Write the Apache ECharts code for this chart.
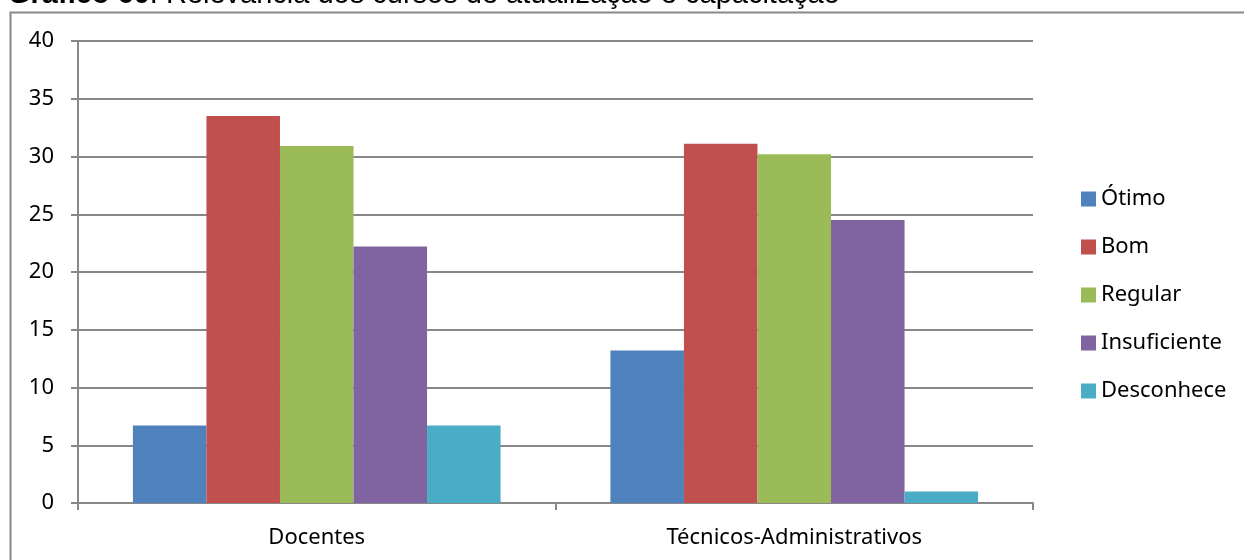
<!DOCTYPE html>
<html>
<head>
<meta charset="utf-8">
<title>Relevância dos cursos de atualização e capacitação</title>
<script src="https://cdn.jsdelivr.net/npm/echarts@6/dist/echarts.min.js"></script>
<style>
  html, body { margin: 0; padding: 0; background: #ffffff; }
  #chart { width: 1244px; height: 560px; }
</style>
</head>
<body>
<div id="chart"></div>
<script>
// Respondent groups along the x axis
const categories = ['Docentes', 'Técnicos-Administrativos'];

// Share of answers per rating (%), one array per rating
const otimo = [6.7, 13.2];
const bom = [33.5, 31.1];
const regular = [30.9, 30.2];
const insuficiente = [22.2, 24.5];
const desconhece = [6.7, 1.0];

const seriesNames = ['Ótimo', 'Bom', 'Regular', 'Insuficiente', 'Desconhece'];
const seriesValues = [otimo, bom, regular, insuficiente, desconhece];
const seriesColors = ['#4F81BD', '#C0504D', '#9BBB59', '#8064A2', '#4BACC6'];

const FONT = 'Noto Sans';
const GRAY = '#888888';

const chart = echarts.init(document.getElementById('chart'));

chart.setOption({
  animation: false,
  backgroundColor: '#ffffff',
  grid: { left: 78, right: 211, top: 41, bottom: 57, containLabel: false },
  graphic: [
    {
      type: 'rect',
      silent: true,
      shape: { x: 10.5, y: 12.5, width: 1300, height: 700 },
      style: { fill: 'none', stroke: GRAY, lineWidth: 2 }
    },
    {
      type: 'text',
      silent: true,
      x: 8,
      y: -5,
      style: {
        text: '{b|Gráfico 60}: Relevância dos cursos de atualização e capacitação',
        font: '29px Liberation Sans',
        fill: '#000000',
        verticalAlign: 'middle',
        rich: {
          b: { fontWeight: 'bold', fontSize: 29, fontFamily: 'Liberation Sans', fill: '#000000' }
        }
      }
    }
  ],
  legend: {
    orient: 'vertical',
    left: 1076,
    top: 181,
    itemWidth: 15,
    itemHeight: 15,
    itemGap: 22,
    icon: 'rect',
    selectedMode: false,
    textStyle: { fontFamily: FONT, fontSize: 22, color: '#000000', lineHeight: 26 },
    data: seriesNames
  },
  xAxis: {
    type: 'category',
    data: categories,
    axisLine: { show: true, lineStyle: { color: GRAY, width: 2 } },
    axisTick: { show: true, length: 7, alignWithLabel: false, lineStyle: { color: GRAY, width: 2 } },
    axisLabel: { margin: 24, fontFamily: FONT, fontSize: 22, color: '#000000' },
    splitLine: { show: false }
  },
  yAxis: {
    type: 'value',
    min: 0,
    max: 40,
    interval: 5,
    axisLine: { show: true, lineStyle: { color: GRAY, width: 2 } },
    axisTick: { show: true, length: 7, lineStyle: { color: GRAY, width: 2 } },
    axisLabel: { margin: 24, fontFamily: FONT, fontSize: 22, color: '#000000' },
    splitLine: { show: true, lineStyle: { color: GRAY, width: 2 } }
  },
  series: seriesNames.map((name, i) => ({
    name: name,
    type: 'bar',
    data: seriesValues[i],
    barGap: '0%',
    barCategoryGap: '23%',
    itemStyle: { color: seriesColors[i] }
  }))
});
</script>
</body>
</html>
